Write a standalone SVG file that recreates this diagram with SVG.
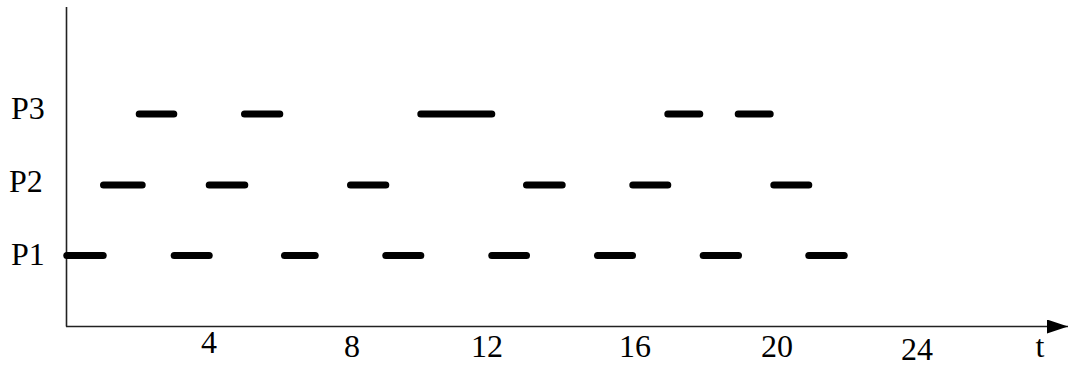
<svg xmlns="http://www.w3.org/2000/svg" width="1069" height="367" viewBox="0 0 1069 367">
<style>
.bg{fill:#ffffff}
.axis{stroke:#222222;stroke-width:1.6;fill:none}
.bar{stroke:#000000;stroke-width:7;stroke-linecap:round;fill:none}
.lbl{font-family:"Liberation Serif","Times New Roman",serif;font-size:32px;fill:#000000}
.tick{font-family:"Liberation Serif","Times New Roman",serif;font-size:32px;fill:#000000;text-anchor:middle}
</style>
<defs>
<marker id="arrow" viewBox="0 0 21 14" refX="21" refY="7" markerWidth="21" markerHeight="14" markerUnits="userSpaceOnUse" orient="auto">
<path d="M0,0 L21,7 L0,14 Z" fill="#000000"/>
</marker>
</defs>
<rect class="bg" x="0" y="0" width="1069" height="367"/>
<g id="axes">
<line class="axis" x1="66.5" y1="7" x2="66.5" y2="326.5"/>
<line class="axis" x1="66" y1="326.5" x2="1068" y2="326.5" marker-end="url(#arrow)"/>
</g>
<g id="labels">
<text class="lbl" x="11" y="119">P3</text>
<text class="lbl" x="9" y="192">P2</text>
<text class="lbl" x="11" y="265">P1</text>
</g>
<g id="ticks">
<text class="tick" x="209" y="353">4</text>
<text class="tick" x="352" y="357">8</text>
<text class="tick" x="487" y="357">12</text>
<text class="tick" x="635" y="357">16</text>
<text class="tick" x="777" y="357">20</text>
<text class="tick" x="917" y="360">24</text>
<text class="tick" x="1040" y="357">t</text>
</g>
<g id="P3-bars">
<line class="bar" x1="139.2" y1="114" x2="173.8" y2="114"/>
<line class="bar" x1="244.5" y1="114" x2="279.8" y2="114"/>
<line class="bar" x1="420.8" y1="114" x2="491.8" y2="114"/>
<line class="bar" x1="667.8" y1="114" x2="699.8" y2="114"/>
<line class="bar" x1="738.2" y1="114" x2="770.2" y2="114"/>
</g>
<g id="P2-bars">
<line class="bar" x1="103.5" y1="185" x2="142.2" y2="185"/>
<line class="bar" x1="209.2" y1="185" x2="244.8" y2="185"/>
<line class="bar" x1="350.5" y1="185" x2="385.8" y2="185"/>
<line class="bar" x1="526.5" y1="185" x2="562.2" y2="185"/>
<line class="bar" x1="632.8" y1="185" x2="667.8" y2="185"/>
<line class="bar" x1="773.8" y1="185" x2="808.8" y2="185"/>
</g>
<g id="P1-bars">
<line class="bar" x1="66.8" y1="255.5" x2="103.2" y2="255.5"/>
<line class="bar" x1="174.2" y1="255.5" x2="209.2" y2="255.5"/>
<line class="bar" x1="284.5" y1="255.5" x2="315.2" y2="255.5"/>
<line class="bar" x1="385.8" y1="255.5" x2="420.8" y2="255.5"/>
<line class="bar" x1="491.8" y1="255.5" x2="526.5" y2="255.5"/>
<line class="bar" x1="597.5" y1="255.5" x2="632.5" y2="255.5"/>
<line class="bar" x1="703.2" y1="255.5" x2="738.5" y2="255.5"/>
<line class="bar" x1="808.8" y1="255.5" x2="844.2" y2="255.5"/>
</g>
</svg>
